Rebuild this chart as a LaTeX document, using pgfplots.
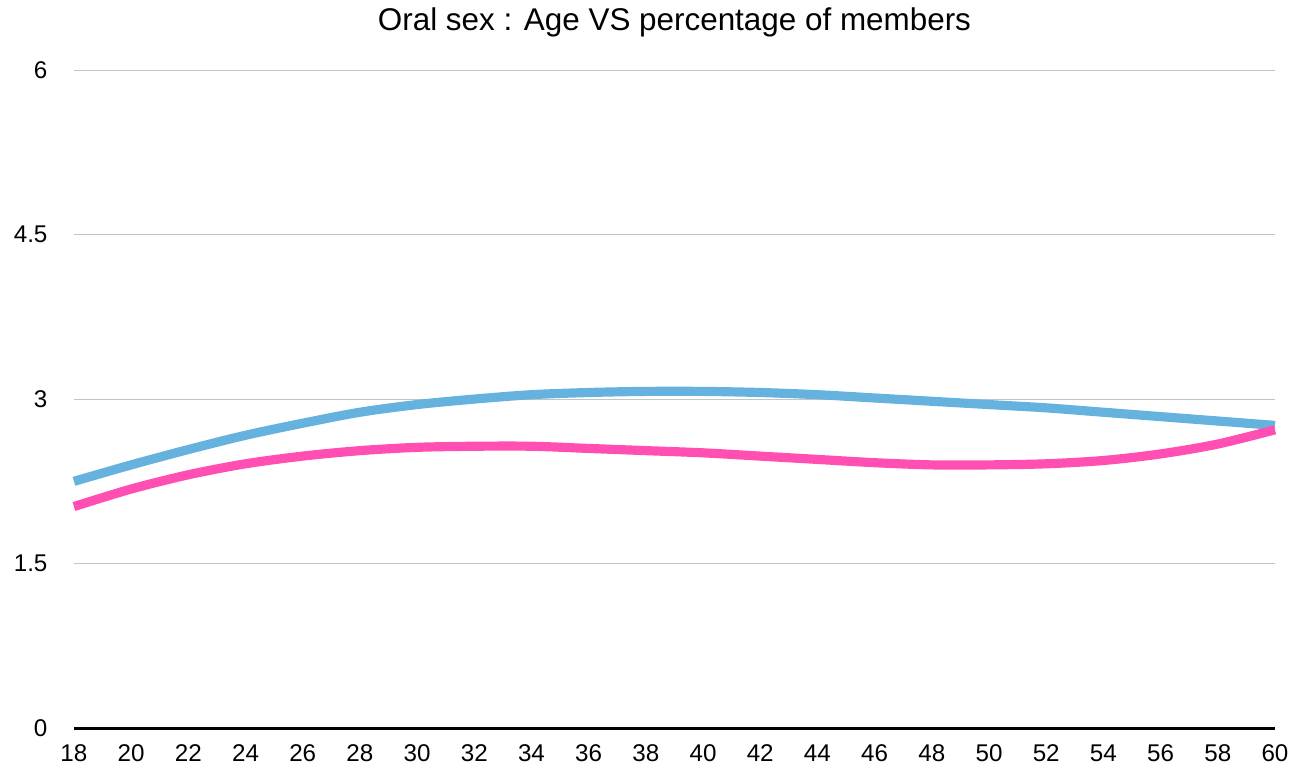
\documentclass[border=0pt]{standalone}
\usepackage{fontspec}
\setmainfont{Liberation Sans}
\usepackage{pgfplots}
\pgfplotsset{compat=1.18}
\definecolor{lineblue}{HTML}{65B2DF}
\definecolor{linepink}{HTML}{FF4FB3}
\definecolor{gridgray}{HTML}{C4C4C4}

\begin{document}
\begin{tikzpicture}
 \useasboundingbox (-26.6pt,-15.5pt) rectangle (442.8pt,261.9pt);
 \begin{axis}[
  scale only axis,
  width=432pt,
  height=236.7pt,
  xmin=18, xmax=60,
  ymin=0, ymax=6,
  xtick={18,20,...,60},
  ytick={0,1.5,3,4.5,6},
  yticklabels={0,1.5,3,4.5,6},
  axis x line*=bottom,
  axis y line*=left,
  y axis line style={draw=none},
  x axis line style={line width=1.1pt, black, -},
  major tick length=0pt,
  ymajorgrids=true,
  grid style={gridgray, line width=0.4pt},
  tick label style={font=\fontsize{8.7}{10}\selectfont},
  /pgf/number format/assume math mode=true,
  xticklabel style={yshift=-2.5pt},
  yticklabel style={xshift=-6pt},
  clip=false,
 ]
  \addplot[lineblue, line width=3.3pt, smooth, no marks] coordinates {
   (18,2.25) (20,2.40) (22,2.54) (24,2.67) (26,2.78) (28,2.88) (30,2.95)
   (32,3.00) (34,3.04) (36,3.06) (38,3.07) (40,3.07) (42,3.06) (44,3.04)
   (46,3.01) (48,2.98) (50,2.95) (52,2.92) (54,2.88) (56,2.84) (58,2.80) (60,2.76)
  };
  \addplot[linepink, line width=3.3pt, smooth, no marks] coordinates {
   (18,2.02) (20,2.18) (22,2.31) (24,2.41) (26,2.48) (28,2.53) (30,2.56)
   (32,2.57) (34,2.57) (36,2.55) (38,2.53) (40,2.51) (42,2.48) (44,2.45)
   (46,2.42) (48,2.40) (50,2.40) (52,2.41) (54,2.44) (56,2.50) (58,2.59) (60,2.72)
  };
  \node[font=\fontsize{11.3}{13}\selectfont] at (rel axis cs:0.5,1) [yshift=17.3pt] {Oral sex : Age VS percentage of members};
 \end{axis}
\end{tikzpicture}
\end{document}
